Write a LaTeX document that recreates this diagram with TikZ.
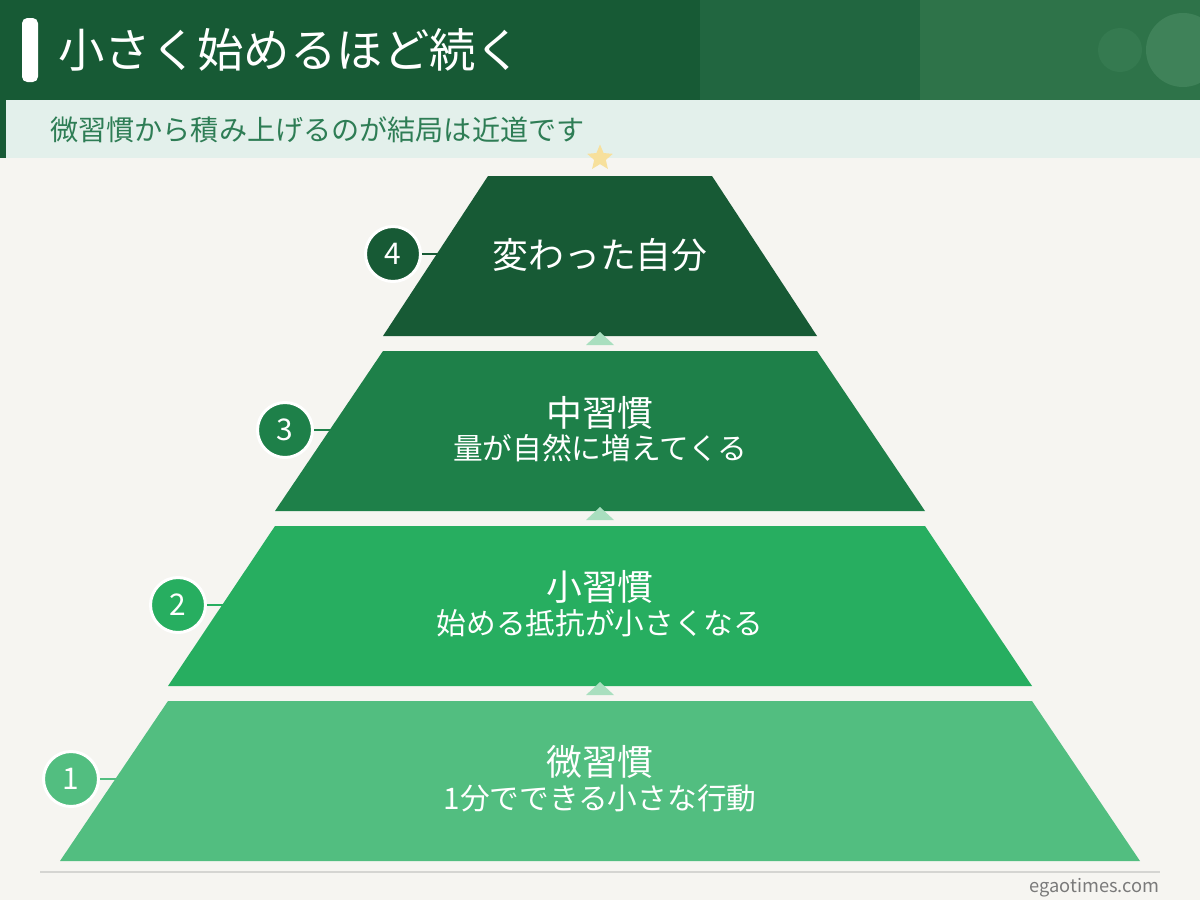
\documentclass[tikz,border=0pt]{standalone}
\usepackage{fontspec}
\setmainfont{Noto Sans CJK JP}
\usepackage{tikz}
\usetikzlibrary{shapes.geometric, positioning}
\definecolor{pagebg}{HTML}{F6F5F1}
\definecolor{headdark}{HTML}{175A35}
\definecolor{headmid}{HTML}{216640}
\definecolor{headlight}{HTML}{2E7349}
\definecolor{dotsmall}{HTML}{357A50}
\definecolor{dotlarge}{HTML}{3F8259}
\definecolor{subband}{HTML}{E3F0EB}
\definecolor{subtext}{HTML}{2E7D55}
\definecolor{starcol}{HTML}{F7E09C}
\definecolor{tierfour}{HTML}{175A35}
\definecolor{tierthree}{HTML}{1E8049}
\definecolor{tiertwo}{HTML}{27AE60}
\definecolor{tierone}{HTML}{52BE80}
\definecolor{uparrow}{HTML}{A9DFBF}
\definecolor{footgray}{HTML}{D5D5D2}
\definecolor{sitegray}{HTML}{7A7A7A}

\begin{document}
\begin{tikzpicture}[x=0.02cm, y=-0.02cm,
  numc/.style={circle, draw=white, line width=1.7pt, minimum size=1.1cm, inner sep=0pt, text=white, font=\fontsize{17}{20}\selectfont},
  link/.style={line width=1.1pt},
  tiermain/.style={text=white, font=\fontsize{20.4}{24}\selectfont, inner sep=0pt},
  tiersub/.style={text=white, font=\fontsize{16.9}{20}\selectfont, inner sep=0pt},
  uptri/.style={fill=uparrow},
]
% background and header
\useasboundingbox (0,0) rectangle (1200,900);
\fill[pagebg] (0,0) rectangle (1200,900);
\fill[headdark] (0,0) rectangle (700,100);
\fill[headmid] (700,0) rectangle (920,100);
\fill[headlight] (920,0) rectangle (1200,100);
\fill[dotsmall] (1120,50) circle (22);
\fill[dotlarge] (1183,50) circle (37);
\fill[white, rounded corners=3pt] (22,18) rectangle (38,82);
\node[anchor=west, text=white, font=\fontsize{26.4}{30}\selectfont, inner sep=0pt] (title) at (58,50) {小さく始めるほど続く};

\fill[subband] (0,100) rectangle (1200,158);
\fill[headdark] (0,100) rectangle (6,158);
\node[anchor=west, text=subtext, font=\fontsize{16}{19}\selectfont, inner sep=0pt] (subtitle) at (50,130) {微習慣から積み上げるのが結局は近道です};
\node[star, star points=5, star point ratio=2.2, fill=starcol, minimum size=0.54cm, inner sep=0pt] (topstar) at (600,158) {};

% number badges and their leads
\node[numc, fill=tierfour] (n4) at (393,254) {4};
\node[numc, fill=tierthree] (n3) at (285,430) {3};
\node[numc, fill=tiertwo] (n2) at (178,605) {2};
\node[numc, fill=tierone] (n1) at (71,779) {1};
\coordinate (e4) at (450,254);
\coordinate (e3) at (345,430);
\coordinate (e2) at (235,605);
\coordinate (e1) at (130,779);
\draw[link, tierfour] (n4) -- (e4);
\draw[link, tierthree] (n3) -- (e3);
\draw[link, tiertwo] (n2) -- (e2);
\draw[link, tierone] (n1) -- (e1);

% pyramid
\fill[tierfour] (488,176) -- (712,176) -- (817,336) -- (383,336) -- cycle;
\fill[tierthree] (383,351) -- (817,351) -- (925,511) -- (275,511) -- cycle;
\fill[tiertwo] (275,526) -- (925,526) -- (1032,686) -- (168,686) -- cycle;
\fill[tierone] (168,701) -- (1032,701) -- (1140,861) -- (60,861) -- cycle;

\fill[uptri] (586,345) -- (600,332) -- (614,345) -- cycle;
\fill[uptri] (586,520) -- (600,507) -- (614,520) -- cycle;
\fill[uptri] (586,695) -- (600,682) -- (614,695) -- cycle;

\node[tiermain] (t4) at (600,255) {変わった自分};
\node[tiermain] (t3) at (600,413) {中習慣};
\node[tiersub] (s3) at (600,448) {量が自然に増えてくる};
\node[tiermain] (t2) at (600,587) {小習慣};
\node[tiersub] (s2) at (600,623) {始める抵抗が小さくなる};
\node[tiermain] (t1) at (600,762) {微習慣};
\node[tiersub] (s1) at (600,798) {1分でできる小さな行動};

% footer
\draw[footgray, line width=0.6pt] (40,872) -- (1160,872);
\node[anchor=east, text=sitegray, font=\fontsize{10.4}{12}\selectfont, inner sep=0pt] (site) at (1160,888) {egaotimes.com};
\end{tikzpicture}
\end{document}
